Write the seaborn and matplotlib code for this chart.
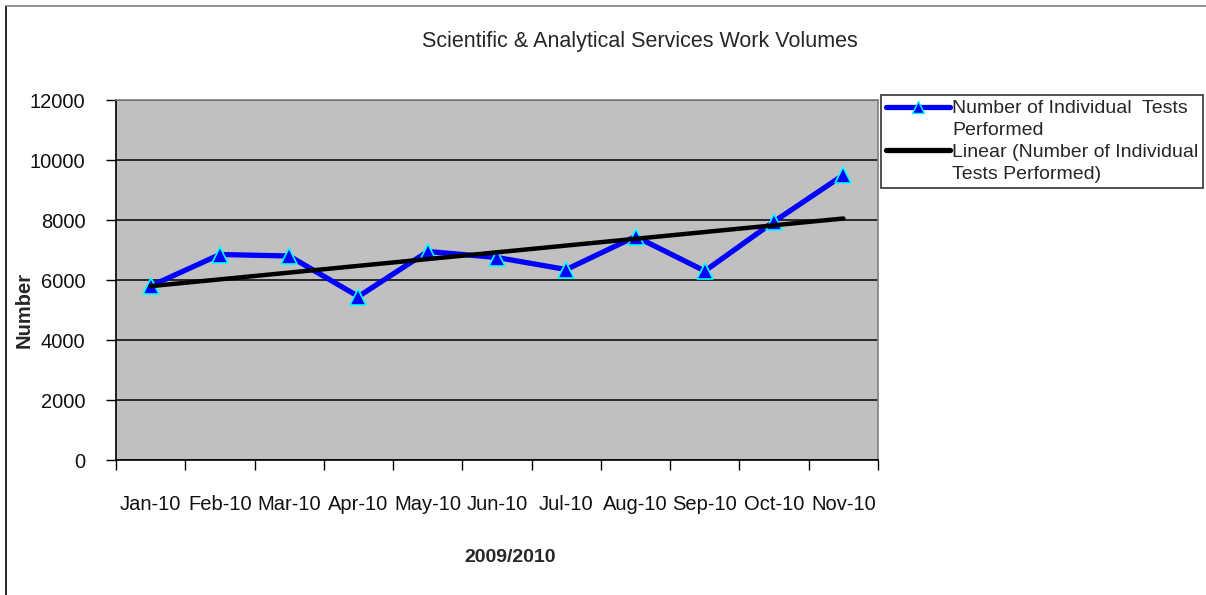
import numpy as np
import pandas as pd
import seaborn as sns
import matplotlib
matplotlib.use("Agg")
import matplotlib.pyplot as plt
from matplotlib.lines import Line2D

months = ['Jan-10', 'Feb-10', 'Mar-10', 'Apr-10', 'May-10', 'Jun-10',
          'Jul-10', 'Aug-10', 'Sep-10', 'Oct-10', 'Nov-10']
tests = [5800, 6850, 6800, 5450, 6950, 6750, 6350, 7450, 6300, 7950, 9500]
y_ticks = [0, 2000, 4000, 6000, 8000, 10000, 12000]

sns.set_style("white")
plt.rcParams['font.family'] = ['Liberation Sans', 'DejaVu Sans']

data = pd.DataFrame({'pos': np.arange(len(months)), 'month': months, 'tests': tests})
# linear trend, like excel's "Linear (...)" trendline
coef = np.polyfit(data['pos'], data['tests'], 1)
data['trend'] = np.polyval(coef, data['pos'])

fig = plt.figure(figsize=(12.06, 5.95), dpi=100)
ax = fig.add_axes([116 / 1206, 135 / 595, 762 / 1206, 360 / 595])
ax.set_facecolor('#C0C0C0')

sns.lineplot(data=data, x='pos', y='tests', ax=ax, color='#0000FF', lw=3.8,
             marker='^', markersize=12, markerfacecolor='#0000FF',
             markeredgecolor='#00FFFF', markeredgewidth=1.2, zorder=3)
sns.lineplot(data=data, x='pos', y='trend', ax=ax, color='black', lw=3.2, zorder=4)

ax.set_xlim(-0.5, len(months) - 0.5)
ax.set_ylim(0, 12000)
ax.set_yticks(y_ticks)
ax.set_yticklabels([str(v) for v in y_ticks], fontsize=14.5, color='#111111')
ax.yaxis.grid(True, color='black', lw=1.1)
ax.set_axisbelow(True)

# ticks on category boundaries, labels on centres
ax.set_xticks(np.arange(-0.5, len(months), 1.0))
ax.set_xticklabels([])
ax.set_xticks(np.arange(len(months)), minor=True)
ax.set_xticklabels(months, minor=True, fontsize=14.5, color='#111111')
ax.tick_params(axis='x', which='major', direction='out', length=7, width=1, color='black', bottom=True)
ax.tick_params(axis='x', which='minor', length=0, pad=25)
ax.tick_params(axis='y', direction='out', length=7, width=1, color='black', left=True, pad=15)
ax.set_xlabel('')
ax.set_ylabel('')

for s in ['left', 'bottom']:
    ax.spines[s].set_color('black')
    ax.spines[s].set_linewidth(1.2)
for s in ['top', 'right']:
    ax.spines[s].set_color('#808080')
    ax.spines[s].set_linewidth(1.2)

fig.text(640 / 1206, 1 - 42 / 595, 'Scientific & Analytical Services Work Volumes',
         ha='center', va='center', fontsize=15.5)
fig.text(510 / 1206, 1 - 558 / 595, '2009/2010', ha='center', va='center',
         fontsize=14, fontweight='bold')
fig.text(24 / 1206, 1 - 310 / 595, 'Number', ha='center', va='center',
         rotation=90, fontsize=14.5, fontweight='bold')

# one legend row per text line so the handle sits on the first line
blank = Line2D([], [], color='none')
handles = [
    Line2D([], [], color='#0000FF', lw=3.8, marker='^', markersize=9,
           markerfacecolor='#0000FF', markeredgecolor='#00FFFF'),
    blank,
    Line2D([], [], color='black', lw=3.8),
    blank,
]
labels = ['Number of Individual  Tests', 'Performed',
          'Linear (Number of Individual', 'Tests Performed)']
leg = fig.legend(handles, labels, loc='upper left',
                 bbox_to_anchor=(881 / 1206, 1 - 95 / 595), fontsize=14,
                 frameon=True, fancybox=False, edgecolor='black',
                 handlelength=3.3, handletextpad=0.1, borderpad=0.25,
                 labelspacing=0.22, borderaxespad=0)
leg.get_frame().set_linewidth(1.2)

# outer chart border
fig.add_artist(Line2D([6 / 1206, 6 / 1206], [0, 1 - 6 / 595], color='black', lw=1.2,
                      transform=fig.transFigure))
fig.add_artist(Line2D([6 / 1206, 1], [1 - 6 / 595, 1 - 6 / 595], color='#808080', lw=1.2,
                      transform=fig.transFigure))

fig.savefig('out.png', dpi=100)
